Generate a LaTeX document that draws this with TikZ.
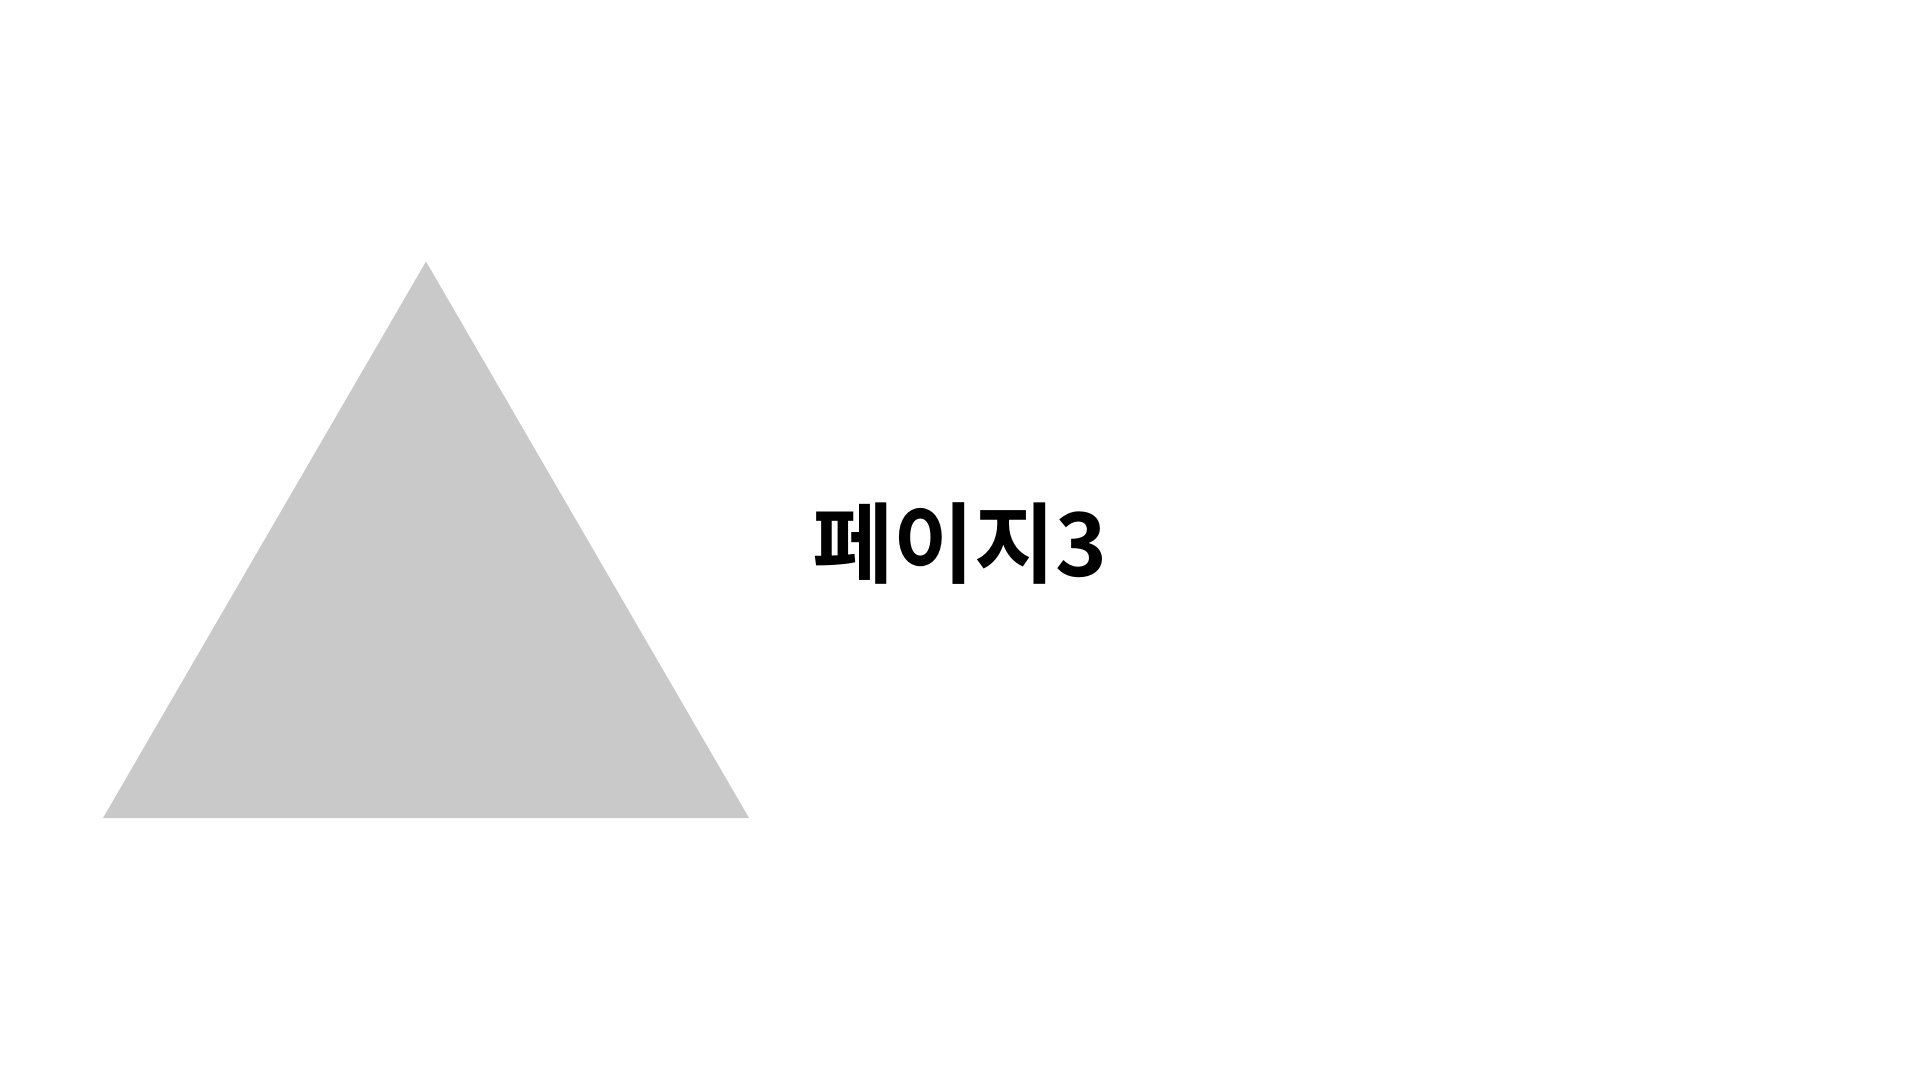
\documentclass[tikz,border=0pt]{standalone}
\usepackage{fontspec}
\newfontfamily\kr{Noto Sans CJK KR Bold}
\definecolor{trigray}{RGB}{201,201,201}
\begin{document}
\begin{tikzpicture}[x=1pt,y=-1pt]
\useasboundingbox (0,0) rectangle (1920,1080);
\fill[trigray] (426,261.5) -- (749,818) -- (103,818) -- cycle;
\node[font={\kr\fontsize{88}{100}\selectfont}, inner sep=0pt, anchor=center] (title) at (960,544) {페이지3};
\end{tikzpicture}
\end{document}
